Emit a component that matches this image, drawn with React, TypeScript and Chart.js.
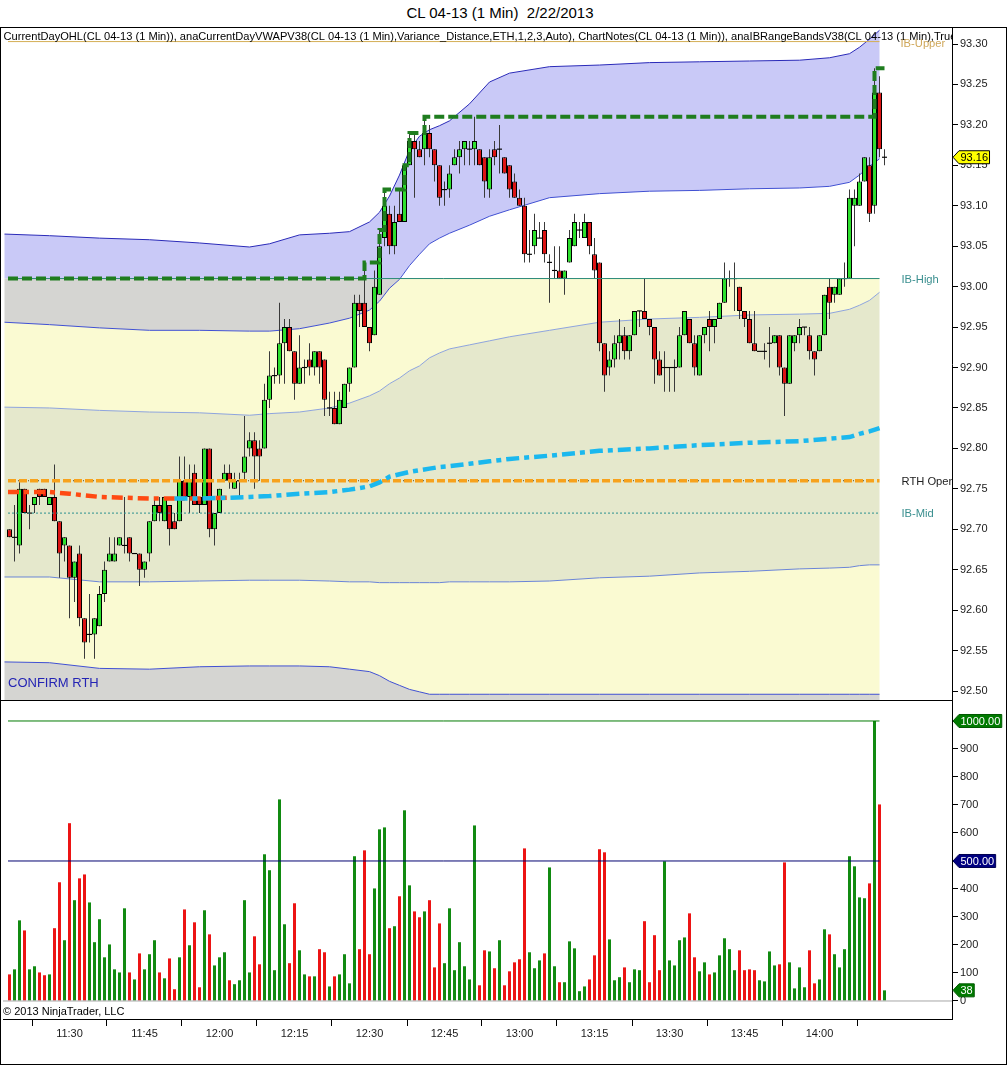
import React, { useEffect, useRef } from 'react';
import { Chart, registerables } from 'chart.js';

Chart.register(...registerables);

const FONT = '"Liberation Sans", Arial, Helvetica, sans-serif';

// ---------- DATA (1-minute bars, 11:18 .. 14:13) ----------
const opens = [
  92.70, 92.69, 92.68, 92.75, 92.72, 92.73, 92.75, 92.75, 92.73, 92.74,
  92.71, 92.68, 92.68, 92.64, 92.67, 92.59, 92.57, 92.57, 92.58, 92.62,
  92.66, 92.66, 92.68, 92.68, 92.69, 92.67, 92.67, 92.65, 92.67, 92.71,
  92.73, 92.71, 92.73, 92.71, 92.71, 92.76, 92.74, 92.77, 92.74, 92.73,
  92.80, 92.70, 92.72, 92.76, 92.77, 92.75, 92.76, 92.77, 92.80, 92.81,
  92.80, 92.80, 92.86, 92.89, 92.89, 92.93, 92.95, 92.92, 92.88, 92.90,
  92.91, 92.90, 92.92, 92.91, 92.85, 92.85, 92.83, 92.85, 92.88, 92.90,
  92.98, 92.98, 92.95, 92.94, 92.99, 93.06, 93.09, 93.05, 93.09, 93.08,
  93.15, 93.18, 93.17, 93.17, 93.19, 93.17, 93.15, 93.12, 93.12, 93.15,
  93.16, 93.17, 93.17, 93.17, 93.17, 93.16, 93.12, 93.17, 93.17, 93.16,
  93.15, 93.13, 93.11, 93.10, 93.04, 93.05, 93.06, 93.07, 93.03, 93.02,
  93.02, 93.01, 93.03, 93.05, 93.07, 93.06, 93.08, 93.04, 93.03, 92.93,
  92.90, 92.91, 92.93, 92.94, 92.92, 92.94, 92.97, 92.97, 92.96, 92.95,
  92.91, 92.90, 92.90, 92.90, 92.90, 92.94, 92.96, 92.93, 92.89, 92.94,
  92.96, 92.95, 92.96, 92.98, 93.01, 93.01, 93.00, 92.97, 92.96, 92.93,
  92.92, 92.92, 92.93, 92.93, 92.94, 92.90, 92.88, 92.93, 92.94, 92.95,
  92.94, 92.92, 92.92, 92.94, 93.00, 92.99, 92.99, 93.01, 93.01, 93.10,
  93.10, 93.13, 93.15, 93.10, 93.24, 93.16,
];
const highs = [
  92.70, 92.73, 92.76, 92.75, 92.73, 92.74, 92.75, 92.75, 92.74, 92.78,
  92.71, 92.69, 92.68, 92.66, 92.68, 92.59, 92.62, 92.59, 92.63, 92.66,
  92.69, 92.69, 92.69, 92.74, 92.69, 92.67, 92.67, 92.66, 92.71, 92.74,
  92.74, 92.74, 92.73, 92.72, 92.79, 92.79, 92.78, 92.78, 92.74, 92.80,
  92.80, 92.72, 92.75, 92.78, 92.78, 92.77, 92.77, 92.84, 92.82, 92.82,
  92.81, 92.88, 92.92, 92.90, 92.98, 92.96, 92.96, 92.92, 92.94, 92.91,
  92.93, 92.92, 92.92, 92.91, 92.87, 92.87, 92.87, 92.88, 92.90, 92.99,
  92.99, 93.03, 92.95, 93.02, 93.07, 93.12, 93.10, 93.10, 93.12, 93.15,
  93.19, 93.19, 93.18, 93.21, 93.20, 93.17, 93.15, 93.13, 93.15, 93.17,
  93.18, 93.18, 93.18, 93.21, 93.17, 93.16, 93.17, 93.18, 93.20, 93.16,
  93.15, 93.14, 93.12, 93.11, 93.07, 93.09, 93.08, 93.08, 93.04, 93.05,
  93.05, 93.02, 93.07, 93.09, 93.08, 93.09, 93.08, 93.06, 93.03, 92.93,
  92.92, 92.94, 92.96, 92.95, 92.94, 92.97, 92.97, 93.01, 92.96, 92.95,
  92.92, 92.92, 92.90, 92.91, 92.95, 92.97, 92.96, 92.94, 92.94, 92.95,
  92.97, 92.96, 92.98, 93.03, 93.02, 93.03, 93.00, 92.97, 92.97, 92.97,
  92.92, 92.93, 92.95, 92.94, 92.94, 92.90, 92.94, 92.94, 92.96, 92.95,
  92.95, 92.92, 92.94, 92.99, 93.01, 93.00, 93.01, 93.03, 93.12, 93.12,
  93.14, 93.16, 93.16, 93.27, 93.26, 93.17,
];
const lows = [
  92.69, 92.66, 92.67, 92.72, 92.70, 92.72, 92.73, 92.74, 92.73, 92.71,
  92.64, 92.66, 92.59, 92.61, 92.58, 92.54, 92.56, 92.54, 92.58, 92.61,
  92.66, 92.66, 92.68, 92.67, 92.66, 92.67, 92.63, 92.64, 92.66, 92.71,
  92.71, 92.71, 92.68, 92.70, 92.71, 92.74, 92.72, 92.73, 92.72, 92.73,
  92.69, 92.68, 92.72, 92.76, 92.75, 92.75, 92.74, 92.76, 92.79, 92.75,
  92.76, 92.80, 92.85, 92.88, 92.88, 92.88, 92.92, 92.86, 92.88, 92.88,
  92.89, 92.89, 92.88, 92.84, 92.84, 92.83, 92.83, 92.85, 92.87, 92.90,
  92.95, 92.95, 92.92, 92.94, 92.99, 93.05, 93.04, 93.04, 93.08, 93.08,
  93.15, 93.11, 93.16, 93.15, 93.16, 93.13, 93.10, 93.10, 93.11, 93.15,
  93.14, 93.15, 93.15, 93.15, 93.15, 93.11, 93.11, 93.15, 93.14, 93.14,
  93.11, 93.11, 93.10, 93.03, 93.03, 93.04, 93.06, 93.03, 92.98, 93.01,
  93.01, 92.99, 93.03, 93.05, 93.06, 93.06, 93.04, 93.01, 92.92, 92.87,
  92.89, 92.90, 92.91, 92.91, 92.91, 92.94, 92.95, 92.96, 92.94, 92.88,
  92.89, 92.87, 92.87, 92.87, 92.90, 92.94, 92.93, 92.89, 92.89, 92.93,
  92.92, 92.93, 92.96, 92.98, 93.00, 92.97, 92.96, 92.95, 92.93, 92.92,
  92.92, 92.91, 92.90, 92.93, 92.89, 92.84, 92.88, 92.92, 92.93, 92.94,
  92.91, 92.89, 92.92, 92.94, 92.96, 92.98, 92.99, 93.00, 93.01, 93.05,
  93.10, 93.13, 93.08, 93.09, 93.16, 93.15,
];
const closes = [
  92.69, 92.69, 92.75, 92.72, 92.72, 92.74, 92.74, 92.74, 92.74, 92.71,
  92.67, 92.69, 92.64, 92.66, 92.59, 92.56, 92.57, 92.59, 92.62, 92.65,
  92.67, 92.67, 92.69, 92.68, 92.67, 92.67, 92.65, 92.66, 92.71, 92.73,
  92.72, 92.74, 92.70, 92.70, 92.76, 92.74, 92.76, 92.73, 92.73, 92.80,
  92.70, 92.72, 92.75, 92.77, 92.76, 92.76, 92.76, 92.79, 92.81, 92.79,
  92.79, 92.86, 92.89, 92.89, 92.93, 92.95, 92.92, 92.88, 92.90, 92.90,
  92.90, 92.92, 92.90, 92.86, 92.85, 92.83, 92.86, 92.88, 92.90, 92.98,
  92.97, 92.95, 92.93, 93.00, 93.05, 93.10, 93.05, 93.08, 93.08, 93.15,
  93.18, 93.17, 93.16, 93.19, 93.17, 93.15, 93.11, 93.12, 93.14, 93.16,
  93.17, 93.18, 93.17, 93.18, 93.15, 93.13, 93.16, 93.16, 93.17, 93.14,
  93.12, 93.11, 93.10, 93.04, 93.04, 93.07, 93.06, 93.04, 93.03, 93.02,
  93.01, 93.02, 93.06, 93.08, 93.07, 93.08, 93.05, 93.02, 92.93, 92.89,
  92.91, 92.93, 92.94, 92.92, 92.94, 92.97, 92.97, 92.96, 92.95, 92.91,
  92.89, 92.90, 92.90, 92.90, 92.94, 92.97, 92.93, 92.90, 92.94, 92.95,
  92.95, 92.96, 92.98, 93.01, 93.01, 93.01, 92.97, 92.96, 92.93, 92.92,
  92.92, 92.92, 92.93, 92.94, 92.90, 92.88, 92.94, 92.94, 92.95, 92.95,
  92.92, 92.91, 92.94, 92.99, 92.98, 93.00, 93.01, 93.01, 93.11, 93.11,
  93.13, 93.16, 93.09, 93.24, 93.17, 93.16,
];
const volumes = [
  95, 113, 288, 252, 113, 124, 102, 92, 95, 260,
  424, 217, 635, 360, 438, 452, 352, 210, 292, 156,
  202, 113, 102, 331, 102, 77, 170, 113, 167, 217,
  102, 81, 152, 42, 156, 327, 199, 281, 49, 324,
  238, 127, 156, 174, 74, 60, 74, 360, 102, 231,
  131, 524, 467, 110, 720, 274, 135, 349, 181, 95,
  88, 88, 185, 174, 52, 88, 95, 167, 63, 517,
  185, 538, 167, 402, 613, 620, 260, 267, 374, 681,
  413, 320, 299, 320, 360, 120, 277, 135, 331, 110,
  210, 124, 77, 627, 56, 181, 177, 117, 217, 56,
  106, 138, 149, 545, 174, 117, 145, 170, 477, 124,
  67, 67, 213, 188, 35, 52, 77, 163, 542, 531,
  220, 74, 85, 120, 67, 113, 110, 285, 67, 235,
  110, 499, 145, 127, 217, 227, 313, 156, 106, 138,
  95, 102, 163, 224, 185, 110, 181, 110, 113, 110,
  74, 70, 177, 127, 131, 495, 138, 45, 120, 49,
  181, 63, 77, 256, 238, 167, 120, 185, 517, 481,
  370, 367, 420, 1000, 702, 38,
];

const timeTickBars = [12, 27, 42, 57, 72, 87, 102, 117, 132, 147, 162];
const timeTickLabels = ['11:30', '11:45', '12:00', '12:15', '12:30', '12:45', '13:00', '13:15', '13:30', '13:45', '14:00'];
const priceTicks = [92.5, 92.55, 92.6, 92.65, 92.7, 92.75, 92.8, 92.85, 92.9, 92.95, 93.0, 93.05, 93.1, 93.15, 93.2, 93.25, 93.3];
const volumeTicks = [0, 100, 200, 300, 400, 500, 600, 700, 800, 900];

const PRIOR_DAY_HIGH = 93.01;
const IB_UPPER = 93.303;
const IB_HIGH = 93.01;
const IB_MID = 92.72;
const RTH_OPEN = 92.76;
const VOL_MAX_LINE = 1000;
const VOL_AVG_LINE = 500;

// VWAP deviation bands, sampled at bar positions
const bandIdx = [-1, 8, 18, 28, 38, 48, 52, 58, 64, 68, 72, 74, 76, 78, 80, 82, 84, 86, 88, 92, 96, 100, 108, 118, 128, 138, 148, 158, 164, 168, 170, 172, 174];
const bandUpper3 = [93.065, 93.063, 93.060, 93.058, 93.054, 93.049, 93.053, 93.064, 93.066, 93.068, 93.080, 93.092, 93.112, 93.138, 93.169, 93.186, 93.194, 93.199, 93.205, 93.226, 93.253, 93.264, 93.272, 93.274, 93.277, 93.278, 93.279, 93.280, 93.283, 93.288, 93.296, 93.306, 93.317];
const bandUpper2 = [92.956, 92.953, 92.949, 92.946, 92.946, 92.945, 92.945, 92.948, 92.955, 92.961, 92.971, 92.982, 92.998, 93.009, 93.026, 93.040, 93.053, 93.060, 93.066, 93.076, 93.087, 93.095, 93.110, 93.115, 93.118, 93.119, 93.121, 93.122, 93.124, 93.129, 93.138, 93.149, 93.158];
const bandUpper1 = [92.851, 92.850, 92.847, 92.845, 92.844, 92.841, 92.843, 92.845, 92.850, 92.856, 92.865, 92.871, 92.880, 92.887, 92.896, 92.902, 92.912, 92.918, 92.923, 92.928, 92.933, 92.938, 92.946, 92.956, 92.960, 92.962, 92.965, 92.966, 92.967, 92.972, 92.977, 92.983, 92.993];
const bandLower1 = [92.641, 92.641, 92.635, 92.635, 92.636, 92.637, 92.637, 92.637, 92.636, 92.635, 92.635, 92.634, 92.634, 92.634, 92.634, 92.634, 92.634, 92.634, 92.635, 92.635, 92.635, 92.635, 92.636, 92.640, 92.642, 92.646, 92.648, 92.651, 92.652, 92.653, 92.655, 92.656, 92.656];
const bandLower2 = [92.536, 92.535, 92.528, 92.527, 92.530, 92.531, 92.531, 92.531, 92.530, 92.527, 92.524, 92.519, 92.512, 92.507, 92.502, 92.499, 92.496, 92.496, 92.496, 92.496, 92.496, 92.496, 92.496, 92.496, 92.496, 92.496, 92.496, 92.496, 92.496, 92.496, 92.496, 92.496, 92.496];

const vwapIdx = [-0.3, 8, 12, 18, 28, 33, 38, 44, 48, 52, 58, 64, 68, 72, 74, 76, 78, 80, 82, 84, 86, 88, 92, 96, 100, 108, 118, 128, 138, 148, 158, 164, 168, 170, 172, 174];
const vwapValues = [92.746, 92.746, 92.744, 92.740, 92.738, 92.738, 92.738, 92.739, 92.740, 92.741, 92.744, 92.746, 92.749, 92.753, 92.758, 92.765, 92.768, 92.771, 92.773, 92.775, 92.777, 92.778, 92.781, 92.784, 92.787, 92.791, 92.797, 92.800, 92.804, 92.807, 92.809, 92.812, 92.814, 92.818, 92.821, 92.825];
const ETH_VWAP_END = 44;
const RTH_VWAP_START = 33;

const LINE_START = -0.3;
const LINE_END = 174;

const HEADER = 'CurrentDayOHL(CL 04-13 (1 Min)), anaCurrentDayVWAPV38(CL 04-13 (1 Min),Variance_Distance,ETH,1,2,3,Auto), ChartNotes(CL 04-13 (1 Min)), anaIBRangeBandsV38(CL 04-13 (1 Min),True)';

// ---------- LAYOUT / STYLE ----------
const X_MIN = -1.3;
const X_MAX = 188.5;
const Y_MIN = 92.4889;
const Y_MAX = 93.3198;
const V_MIN = -64.3;
const V_MAX = 1071.4;
const AXIS_W = 56;

const UP = '#2ee02e';
const DOWN = '#dc1414';
const VOL_UP = '#118a11';
const VOL_DOWN = '#ec1414';
const LAVENDER = '#c9c9f7';
const GREY = '#d5d5d2';
const YELLOW = '#fafad2';
const SAGE = '#e5e8cc';

const pts = (xs: number[], ys: number[]) => xs.map((x, i) => ({ x, y: ys[i] }));
const hline = (v: number, a: number, b: number) => [{ x: a, y: v }, { x: b, y: v }];

function lineDs(data: any[], color: string, width: number, dash: number[], order: number, extra: any = {}) {
  return {
    type: 'line',
    data,
    borderColor: color,
    borderWidth: width,
    borderDash: dash,
    pointRadius: 0,
    fill: false,
    tension: 0,
    order,
    ...extra,
  };
}

function drawFlag(ctx: CanvasRenderingContext2D, axisX: number, y: number, text: string, fill: string, stroke: string, color: string) {
  ctx.save();
  ctx.font = `11px ${FONT}`;
  const w = ctx.measureText(text).width + 3;
  const h = 13;
  const tip = axisX + 1;
  const bx = tip + 6;
  ctx.beginPath();
  ctx.moveTo(tip, y);
  ctx.lineTo(bx, y - h / 2);
  ctx.lineTo(bx + w, y - h / 2);
  ctx.lineTo(bx + w, y + h / 2);
  ctx.lineTo(bx, y + h / 2);
  ctx.closePath();
  ctx.fillStyle = fill;
  ctx.fill();
  ctx.strokeStyle = stroke;
  ctx.lineWidth = 1;
  ctx.stroke();
  ctx.fillStyle = color;
  ctx.textAlign = 'left';
  ctx.textBaseline = 'middle';
  ctx.fillText(text, bx + 1.5, y + 0.5);
  ctx.restore();
}

const bandFillPlugin = {
  id: 'bandFill',
  beforeDatasetsDraw(chart: any) {
    const { ctx, chartArea: a, scales } = chart;
    const xs = scales.x;
    const ys = scales.y;
    const px = bandIdx.map((v) => xs.getPixelForValue(v));
    const hiB = bandUpper2.map((v) => Math.max(v, IB_HIGH));
    const loB = bandUpper2.map((v) => Math.min(v, IB_HIGH));
    const ib = bandUpper2.map(() => IB_HIGH);
    const bottom = bandUpper2.map(() => ys.min);
    const region = (top: number[], bot: number[], color: string) => {
      ctx.beginPath();
      top.forEach((v, i) => {
        const yy = ys.getPixelForValue(v);
        if (i === 0) ctx.moveTo(px[i], yy);
        else ctx.lineTo(px[i], yy);
      });
      for (let i = bot.length - 1; i >= 0; i--) ctx.lineTo(px[i], ys.getPixelForValue(bot[i]));
      ctx.closePath();
      ctx.fillStyle = color;
      ctx.fill();
    };
    ctx.save();
    ctx.beginPath();
    ctx.rect(a.left, a.top, a.right - a.left, a.bottom - a.top);
    ctx.clip();
    region(bandUpper3, hiB, LAVENDER);
    region(ib, loB, GREY);
    region(loB, bandUpper1, YELLOW);
    region(bandUpper1, bandLower1, SAGE);
    region(bandLower1, bandLower2, YELLOW);
    region(bandLower2, bottom, GREY);
    ctx.restore();
  },
};

const priceDecorPlugin = {
  id: 'priceDecor',
  afterDraw(chart: any) {
    const { ctx, chartArea: a, scales } = chart;
    const ys = scales.y;
    const xs = scales.x;
    const labelX = xs.getPixelForValue(LINE_END) + 22;
    ctx.save();
    ctx.beginPath();
    ctx.rect(a.left, a.top, a.right - a.left, a.bottom - a.top);
    ctx.clip();
    ctx.font = `11.1px ${FONT}`;
    ctx.textAlign = 'left';
    ctx.textBaseline = 'alphabetic';
    ctx.fillStyle = '#000';
    ctx.fillText(HEADER, a.left + 0.5, a.top + 11.5);
    ctx.font = `11.2px ${FONT}`;
    ctx.textBaseline = 'middle';
    ctx.fillStyle = '#cfa75a';
    ctx.fillText('IB-Upper', labelX - 1, ys.getPixelForValue(IB_UPPER) + 2);
    ctx.fillStyle = '#3a8f8f';
    ctx.fillText('IB-High', labelX, ys.getPixelForValue(IB_HIGH) + 1);
    ctx.fillStyle = '#222';
    ctx.fillText('RTH Open', labelX, ys.getPixelForValue(RTH_OPEN) + 1);
    ctx.fillStyle = '#3a8f8f';
    ctx.fillText('IB-Mid', labelX, ys.getPixelForValue(IB_MID) + 1);
    ctx.font = `13px ${FONT}`;
    ctx.fillStyle = '#2424b4';
    ctx.textBaseline = 'alphabetic';
    ctx.fillText('CONFIRM RTH', a.left + 5, a.bottom - 13);
    ctx.restore();
    const last = closes[closes.length - 1];
    drawFlag(ctx, a.right, ys.getPixelForValue(last), last.toFixed(2), '#ffff00', '#000', '#000');
  },
};

const volDecorPlugin = {
  id: 'volDecor',
  afterDraw(chart: any) {
    const { ctx, chartArea: a, scales } = chart;
    const ys = scales.y;
    ctx.save();
    ctx.font = `11px ${FONT}`;
    ctx.fillStyle = '#000';
    ctx.textAlign = 'left';
    ctx.textBaseline = 'middle';
    ctx.fillText('\u00A9 2013 NinjaTrader, LLC', 3, a.bottom - 7);
    ctx.restore();
    drawFlag(ctx, a.right, ys.getPixelForValue(VOL_MAX_LINE), VOL_MAX_LINE.toFixed(2), '#007a00', '#005a00', '#fff');
    drawFlag(ctx, a.right, ys.getPixelForValue(VOL_AVG_LINE), VOL_AVG_LINE.toFixed(2), '#000080', '#000050', '#fff');
    const lastV = volumes[volumes.length - 1];
    drawFlag(ctx, a.right, ys.getPixelForValue(lastV), String(lastV), '#007a00', '#005a00', '#fff');
  },
};

const tickFont = { family: FONT, size: 11 };

function buildPrice(canvas: HTMLCanvasElement) {
  const idx = opens.map((_, i) => i);
  const bodyIdx = idx.filter((i) => opens[i] !== closes[i]);
  const dojiIdx = idx.filter((i) => opens[i] === closes[i]);
  let run = PRIOR_DAY_HIGH;
  const dayHigh: { x: number; y: number }[] = [{ x: LINE_START, y: PRIOR_DAY_HIGH }];
  highs.forEach((h, i) => {
    run = Math.max(run, h);
    dayHigh.push({ x: i, y: run });
  });
  const vwap = pts(vwapIdx, vwapValues);
  const barCommon = { grouped: false, inflateAmount: 0, borderSkipped: false };

  const datasets: any[] = [
    lineDs(vwap.filter((p) => p.x >= RTH_VWAP_START), '#1bb8ee', 4.5, [13, 5, 5, 5], 1),
    lineDs(vwap.filter((p) => p.x <= ETH_VWAP_END), '#ff4a12', 4.5, [11, 5, 5, 5], 2),
    lineDs(hline(RTH_OPEN, LINE_START, LINE_END), '#f7a21c', 3.5, [8, 3], 3),
    lineDs(hline(RTH_OPEN, LINE_START, LINE_END), '#5a4a20', 1, [1, 4], 4),
    lineDs(dayHigh, '#1f7d1f', 4, [10, 4], 5, { stepped: true }),
    lineDs(hline(IB_UPPER, LINE_START, LINE_END), '#d4ae55', 1, [], 6),
    lineDs(hline(IB_HIGH, LINE_START, LINE_END), '#2a8a78', 1, [], 7),
    lineDs(hline(IB_MID, LINE_START, LINE_END), '#2a9090', 1, [2, 2], 8),
    {
      type: 'bar',
      data: dojiIdx.map((i) => ({ x: i, y: [opens[i] - 0.0007, opens[i] + 0.0007] })),
      backgroundColor: '#000',
      borderWidth: 0,
      barThickness: 5,
      maxBarThickness: 5,
      order: 9,
      ...barCommon,
    },
    {
      type: 'bar',
      data: bodyIdx.map((i) => ({ x: i, y: [opens[i], closes[i]] })),
      backgroundColor: bodyIdx.map((i) => (closes[i] > opens[i] ? UP : DOWN)),
      borderColor: '#000',
      borderWidth: 1,
      barThickness: 5,
      maxBarThickness: 5,
      order: 10,
      ...barCommon,
    },
    {
      type: 'bar',
      data: idx.map((i) => ({ x: i, y: [lows[i], highs[i]] })),
      backgroundColor: '#3a3a3a',
      borderWidth: 0,
      barThickness: 1,
      maxBarThickness: 1,
      order: 11,
      ...barCommon,
    },
    lineDs(pts(bandIdx, bandUpper3), '#2a2ab8', 1, [], 12),
    lineDs(pts(bandIdx, bandUpper2), '#4050d2', 1, [], 13),
    lineDs(pts(bandIdx, bandUpper1), '#8ea4dc', 1, [], 14),
    lineDs(pts(bandIdx, bandLower1), '#6a84d6', 1, [], 15),
    lineDs(pts(bandIdx, bandLower2), '#4050d2', 1, [], 16),
  ];

  return new Chart(canvas, {
    type: 'line',
    data: { datasets },
    plugins: [bandFillPlugin, priceDecorPlugin],
    options: {
      animation: false,
      responsive: false,
      devicePixelRatio: 1,
      events: [],
      layout: { padding: { left: 3, right: 0, top: 0, bottom: 0 } },
      plugins: { legend: { display: false }, tooltip: { enabled: false } },
      scales: {
        x: { type: 'linear', min: X_MIN, max: X_MAX, display: false, offset: false },
        y: {
          type: 'linear',
          position: 'right',
          min: Y_MIN,
          max: Y_MAX,
          afterFit: (s: any) => {
            s.width = AXIS_W;
            s.paddingTop = 0;
            s.paddingBottom = 0;
          },
          afterBuildTicks: (s: any) => {
            s.ticks = priceTicks.map((v) => ({ value: v }));
          },
          ticks: { callback: (v: any) => Number(v).toFixed(2), font: tickFont, color: '#1a1a1a', padding: 2 },
          grid: { drawOnChartArea: false, drawTicks: true, tickLength: 6, color: '#000' },
          border: { display: true, color: '#000', width: 1 },
        },
      },
    } as any,
  } as any);
}

function buildVolume(canvas: HTMLCanvasElement) {
  const idx = volumes.map((_, i) => i);
  const datasets: any[] = [
    lineDs(hline(VOL_MAX_LINE, LINE_START, LINE_END), '#007a00', 1, [], 1),
    lineDs(hline(VOL_AVG_LINE, LINE_START, LINE_END), '#000070', 1, [], 2),
    lineDs(hline(0, X_MIN, X_MAX), '#a6a6a6', 1, [], 3),
    {
      type: 'bar',
      data: idx.map((i) => ({ x: i, y: volumes[i] })),
      backgroundColor: idx.map((i) => (closes[i] >= opens[i] ? VOL_UP : VOL_DOWN)),
      borderWidth: 0,
      barThickness: 3,
      maxBarThickness: 3,
      grouped: false,
      inflateAmount: 0,
      order: 4,
    },
  ];
  return new Chart(canvas, {
    type: 'line',
    data: { datasets },
    plugins: [volDecorPlugin],
    options: {
      animation: false,
      responsive: false,
      devicePixelRatio: 1,
      events: [],
      layout: { padding: { left: 3, right: 0, top: 0, bottom: 0 } },
      plugins: { legend: { display: false }, tooltip: { enabled: false } },
      scales: {
        x: {
          type: 'linear',
          position: 'bottom',
          min: X_MIN,
          max: X_MAX,
          offset: false,
          afterFit: (s: any) => {
            s.height = 45;
            s.paddingLeft = 0;
            s.paddingRight = 0;
          },
          afterBuildTicks: (s: any) => {
            s.ticks = timeTickBars.map((v) => ({ value: v }));
          },
          ticks: {
            autoSkip: false,
            maxRotation: 0,
            callback: (_v: any, i: number) => timeTickLabels[i],
            font: tickFont,
            color: '#1a1a1a',
            padding: 1,
          },
          grid: { drawOnChartArea: false, drawTicks: true, tickLength: 7, color: '#000' },
          border: { display: true, color: '#000', width: 1 },
        },
        y: {
          type: 'linear',
          position: 'right',
          min: V_MIN,
          max: V_MAX,
          afterFit: (s: any) => {
            s.width = AXIS_W;
            s.paddingTop = 0;
            s.paddingBottom = 0;
          },
          afterBuildTicks: (s: any) => {
            s.ticks = volumeTicks.map((v) => ({ value: v }));
          },
          ticks: { callback: (v: any) => String(v), font: tickFont, color: '#1a1a1a', padding: 2 },
          grid: { drawOnChartArea: false, drawTicks: true, tickLength: 6, color: '#000' },
          border: { display: true, color: '#000', width: 1 },
        },
      },
    } as any,
  } as any);
}

export default function App() {
  const priceRef = useRef<HTMLCanvasElement>(null);
  const volRef = useRef<HTMLCanvasElement>(null);
  useEffect(() => {
    const pc = buildPrice(priceRef.current as HTMLCanvasElement);
    const vc = buildVolume(volRef.current as HTMLCanvasElement);
    return () => {
      pc.destroy();
      vc.destroy();
    };
  }, []);
  return (
    <div style={{ position: 'absolute', left: 0, top: 0, width: 1008, height: 1065, background: '#fff', fontFamily: FONT, overflow: 'hidden' }}>
      <div style={{ position: 'absolute', left: 0, top: 4, width: 1000, textAlign: 'center', fontSize: 15, whiteSpace: 'pre', color: '#000', lineHeight: '18px' }}>
        CL 04-13 (1 Min)  2/22/2013
      </div>
      <canvas ref={priceRef} width={1008} height={672} style={{ position: 'absolute', left: 0, top: 28, width: 1008, height: 672 }} />
      <div style={{ position: 'absolute', left: 0, top: 700, width: 953, height: 1, background: '#000' }} />
      <canvas ref={volRef} width={1008} height={363} style={{ position: 'absolute', left: 0, top: 701, width: 1008, height: 363 }} />
      <div style={{ position: 'absolute', left: 0, top: 27, width: 1007, height: 1038, border: '1px solid #000', boxSizing: 'border-box', pointerEvents: 'none' }} />
    </div>
  );
}
